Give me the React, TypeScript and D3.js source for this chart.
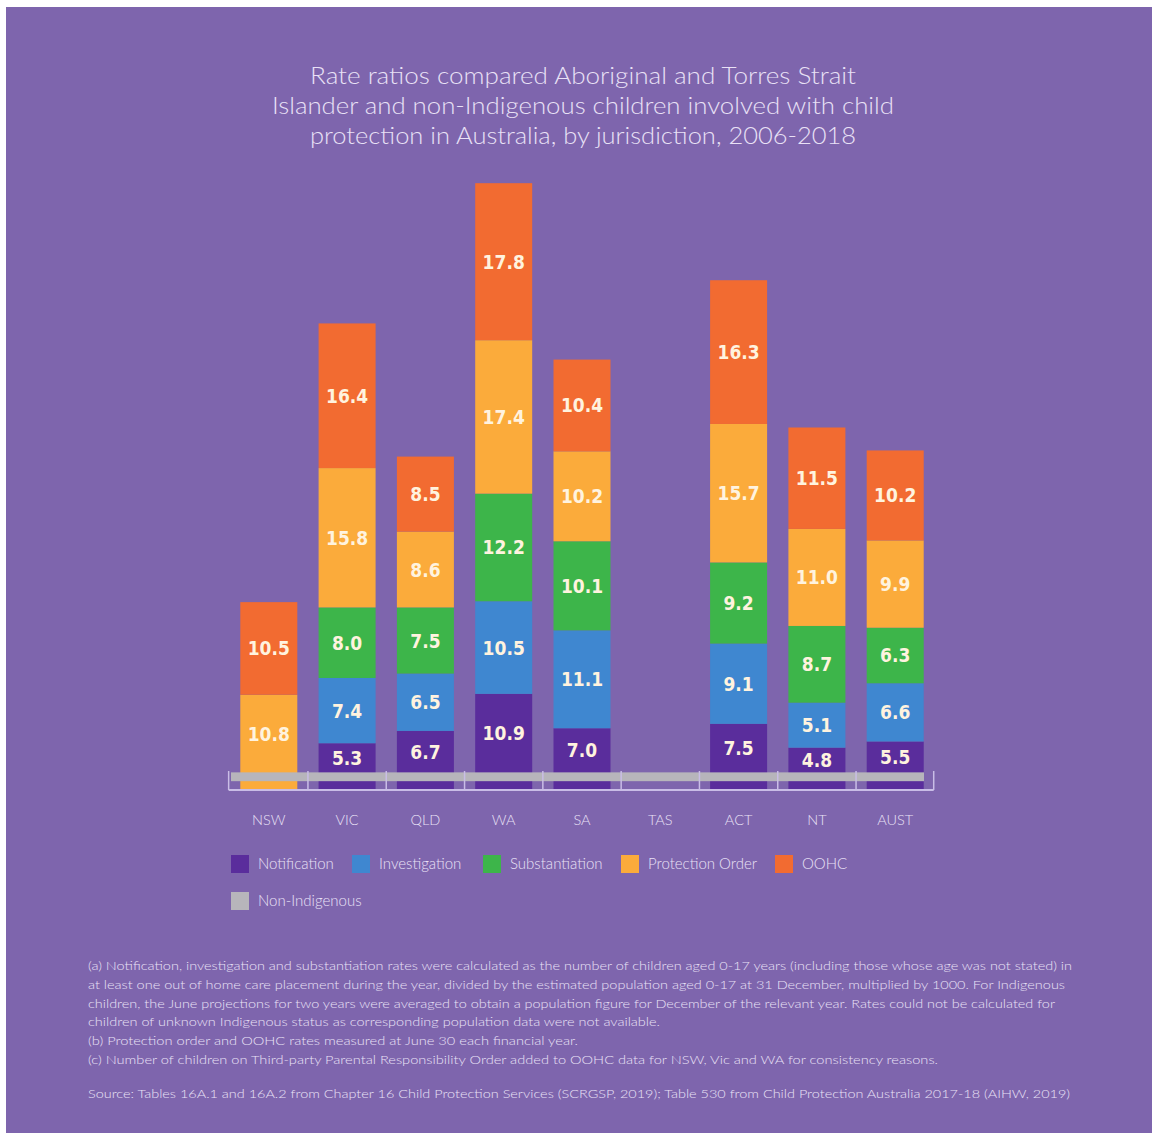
import * as d3 from "d3"

const jurisdictions = ["NSW", "VIC", "QLD", "WA", "SA", "TAS", "ACT", "NT", "AUST"]
const notification = [0, 5.3, 6.7, 10.9, 7.0, 0, 7.5, 4.8, 5.5]
const investigation = [0, 7.4, 6.5, 10.5, 11.1, 0, 9.1, 5.1, 6.6]
const substantiation = [0, 8.0, 7.5, 12.2, 10.1, 0, 9.2, 8.7, 6.3]
const protectionOrder = [10.8, 15.8, 8.6, 17.4, 10.2, 0, 15.7, 11.0, 9.9]
const oohc = [10.5, 16.4, 8.5, 17.8, 10.4, 0, 16.3, 11.5, 10.2]
const nonIndigenous = 1

const seriesNames = ["Notification", "Investigation", "Substantiation", "Protection Order", "OOHC"]
const seriesColors = ["#5a2d9c", "#3f87d0", "#3db54a", "#fbab3b", "#f26b31"]
const nonIndigenousColor = "#b7b5bb"

const titleLines = [
  "Rate ratios compared Aboriginal and Torres Strait",
  "Islander and non-Indigenous children involved with child",
  "protection in Australia, by jurisdiction, 2006-2018",
]
const titleWidths = [546, 622, 546]

const notes = [
  "(a) Notification, investigation and substantiation rates were calculated as the number of children aged 0-17 years (including those whose age was not stated) in",
  "at least one out of home care placement during the year, divided by the estimated population aged 0-17 at 31 December, multiplied by 1000. For Indigenous",
  "children, the June projections for two years were averaged to obtain a population figure for December of the relevant year. Rates could not be calculated for",
  "children of unknown Indigenous status as corresponding population data were not available.",
  "(b) Protection order and OOHC rates measured at June 30 each financial year.",
  "(c) Number of children on Third-party Parental Responsibility Order added to OOHC data for NSW, Vic and WA for consistency reasons.",
]
const noteWidths = [984, 977, 967, 572, 490, 850]
const source =
  "Source: Tables 16A.1 and 16A.2 from Chapter 16 Child Protection Services (SCRGSP, 2019); Table 530 from Child Protection Australia 2017-18 (AIHW, 2019)"

const W = 1152
const H = 1133
const bg = "#7e65ad"
const textLight = "#e9e1f6"
const labelColor = "#fff3df"
const axisColor = "#c9bde6"
const lightFont = "Lato, 'Open Sans', sans-serif"

export default function App() {
  const rows = jurisdictions.map((j, i) => ({
    key: j,
    Notification: notification[i],
    Investigation: investigation[i],
    Substantiation: substantiation[i],
    "Protection Order": protectionOrder[i],
    OOHC: oohc[i],
  }))

  const series = d3.stack<any>().keys(seriesNames)(rows)

  const x = d3
    .scaleBand()
    .domain(jurisdictions)
    .range([228, 936])
    .paddingInner(0.272)
    .paddingOuter(0.157)

  const baseY = 790
  const y = d3.scaleLinear().domain([0, 70]).range([baseY, baseY - 70 * 8.82])

  const step = x.step()
  const gap = step - x.bandwidth()
  const tickXs = [x(jurisdictions[0])! - gap / 2 - 1].concat(
    jurisdictions.map(j => x(j)! + x.bandwidth() + gap / 2)
  )
  tickXs[tickXs.length - 1] = x(jurisdictions[jurisdictions.length - 1])! + x.bandwidth() + 10

  const bandH = y(0) - y(nonIndigenous)
  const bandTop = y(nonIndigenous) - bandH

  const legendRow1 = [231, 352, 483, 621, 775]

  return (
    <div style={{ position: "absolute", left: 0, top: 0 }}>
      <svg width={W} height={H} style={{ display: "block" }}>
        <rect x={0} y={0} width={W} height={H} fill="#ffffff" />
        <rect x={6} y={7} width={W - 6} height={H - 7} fill={bg} />

        {/* Title */}
        {titleLines.map((t, i) => (
          <text
            key={i}
            x={583}
            y={84 + i * 30}
            textAnchor="middle"
            fill={textLight}
            fontFamily={lightFont}
            fontWeight={300}
            fontSize={24}
            textLength={titleWidths[i]}
            lengthAdjust="spacingAndGlyphs"
          >
            {t}
          </text>
        ))}

        {/* Bars */}
        {series.map((s, si) => (
          <g key={s.key} fill={seriesColors[si]}>
            {s.map((d, di) => {
              const v = d[1] - d[0]
              if (!v) return null
              return (
                <rect
                  key={di}
                  x={x(jurisdictions[di])}
                  y={y(d[1])}
                  width={x.bandwidth()}
                  height={y(d[0]) - y(d[1])}
                />
              )
            })}
          </g>
        ))}

        {/* Value labels */}
        {series.map((s, si) => (
          <g key={"l" + s.key}>
            {s.map((d, di) => {
              const v = d[1] - d[0]
              if (!v) return null
              const bottom = Math.min(y(d[0]), bandTop)
              const cy = (bottom + y(d[1])) / 2
              return (
                <text
                  key={di}
                  x={x(jurisdictions[di])! + x.bandwidth() / 2}
                  y={cy + 7}
                  textAnchor="middle"
                  fill={labelColor}
                  fontFamily="'DejaVu Sans Condensed', 'Liberation Sans Narrow', Roboto, sans-serif"
                  fontWeight="bold"
                  fontSize={19}
                >
                  {v.toFixed(1)}
                </text>
              )
            })}
          </g>
        ))}

        {/* Non-Indigenous band */}
        <rect x={231} y={bandTop} width={924 - 231} height={bandH} fill={nonIndigenousColor} />

        {/* Axis */}
        <line x1={tickXs[0]} x2={tickXs[tickXs.length - 1]} y1={baseY} y2={baseY} stroke={axisColor} strokeWidth={2} />
        {tickXs.map((tx, i) => (
          <line key={i} x1={tx} x2={tx} y1={baseY} y2={baseY - 19} stroke={axisColor} strokeWidth={1.5} />
        ))}
        {jurisdictions.map(j => (
          <text
            key={j}
            x={x(j)! + x.bandwidth() / 2}
            y={825}
            textAnchor="middle"
            fill={textLight}
            fontFamily={lightFont}
            fontWeight={300}
            fontSize={14.5}
          >
            {j}
          </text>
        ))}

        {/* Legend */}
        {seriesNames.map((n, i) => (
          <g key={n} transform={`translate(${legendRow1[i]},855)`}>
            <rect width={18} height={18} fill={seriesColors[i]} />
            <text x={27} y={14} fill={textLight} fontFamily={lightFont} fontWeight={300} fontSize={15}>
              {n}
            </text>
          </g>
        ))}
        <g transform="translate(231,892)">
          <rect width={18} height={18} fill={nonIndigenousColor} />
          <text x={27} y={14} fill={textLight} fontFamily={lightFont} fontWeight={300} fontSize={15}>
            Non-Indigenous
          </text>
        </g>

        {/* Notes */}
        {notes.map((n, i) => (
          <text
            key={i}
            x={88}
            y={970 + i * 18.8}
            fill={textLight}
            fontFamily={lightFont}
            fontWeight={300}
            fontSize={11.5}
            textLength={noteWidths[i]}
            lengthAdjust="spacingAndGlyphs"
          >
            {n}
          </text>
        ))}
        <text
          x={88}
          y={1098}
          fill={textLight}
          fontFamily={lightFont}
          fontWeight={300}
          fontSize={11.5}
          textLength={982}
          lengthAdjust="spacingAndGlyphs"
        >
          {source}
        </text>
      </svg>
    </div>
  )
}
